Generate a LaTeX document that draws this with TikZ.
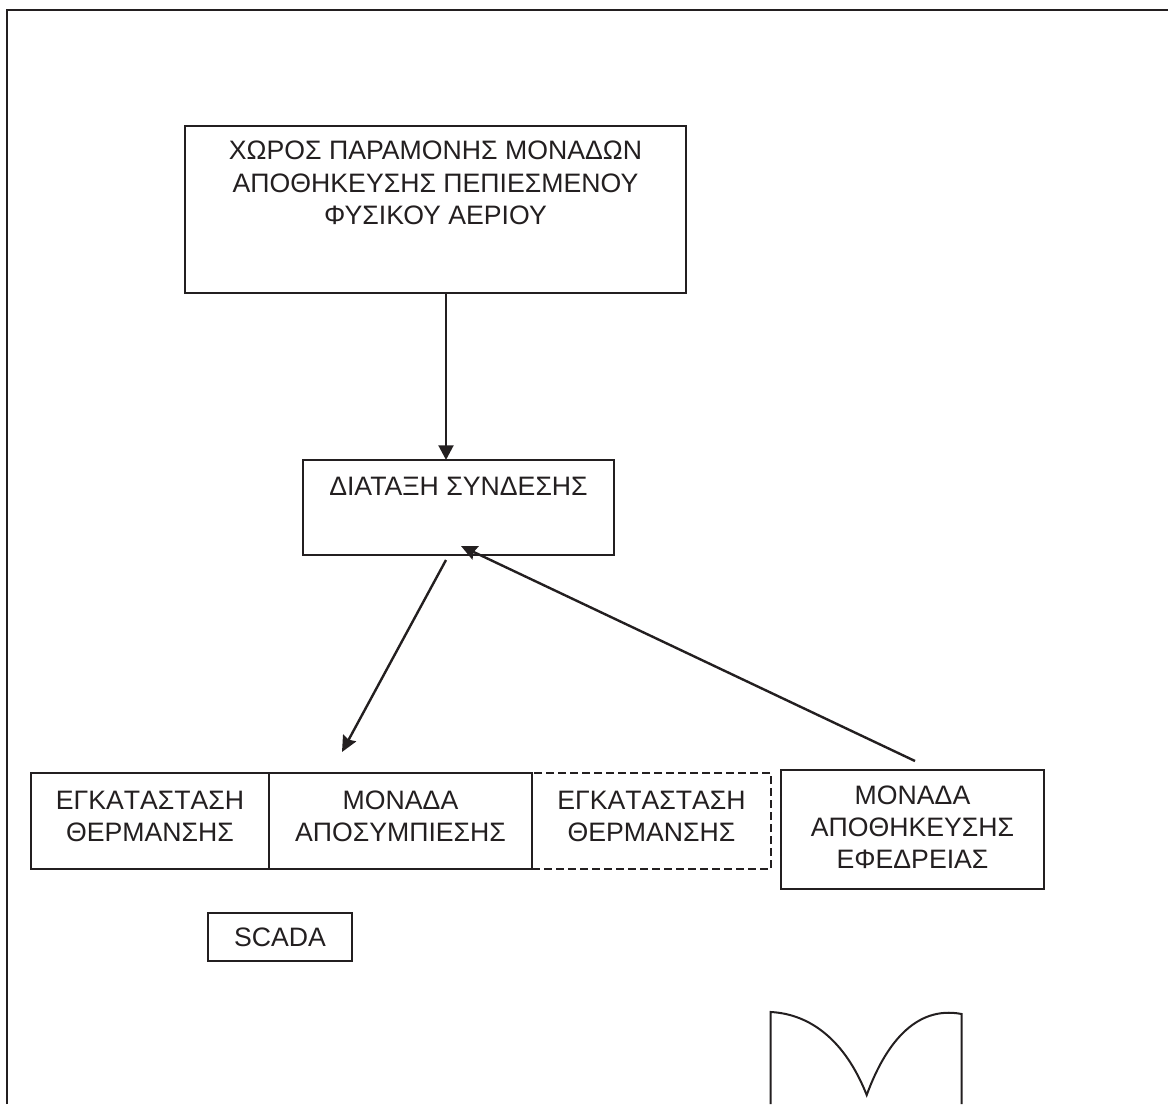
\documentclass[tikz,border=0pt]{standalone}
\usepackage{fontspec}
\setmainfont{Liberation Sans}
\newfontfamily\nokern[Kerning=Off]{Liberation Sans}
\usetikzlibrary{positioning, arrows.meta}
\definecolor{ink}{HTML}{231F20}
\tikzset{
  unitbox/.style={draw=ink, text=ink, line width=1.5pt, inner sep=0pt, outer sep=0pt,
    align=center, font=\fontsize{20}{24.2}\selectfont, minimum height=72pt},
  flow/.style={draw=ink, line width=1.8pt, -{Stealth[length=12pt,width=11pt,inset=1.5pt]}}
}
\begin{document}
\begin{tikzpicture}[x=0.75pt,y=-0.75pt]
     \useasboundingbox (0,0) rectangle (1168,1104);
     % outer frame, open at the bottom and on the right
     \draw[ink, line width=1.5pt] (6.5,1104) -- (6.5,9.5) -- (1168,9.5);

     \node[unitbox, minimum width=375.75pt, minimum height=125.25pt] (store) at (435.5,209.5)
       {ΧΩΡΟΣ ΠΑΡΑΜΟΝΗΣ ΜΟΝΑΔΩΝ\\ ΑΠΟΘΗΚΕΥΣΗΣ ΠΕΠΙΕΣΜΕΝΟΥ\\ ΦΥΣΙΚΟΥ ΑΕΡΙΟΥ\\[16pt]~};
     \node[unitbox, minimum width=233.25pt, minimum height=71.25pt] (link) at (458.5,507.5)
       {ΔΙΑΤΑΞΗ ΣΥΝΔΕΣΗΣ\\[7pt]~};

     % row of units
     \node[unitbox, minimum width=178.5pt] (heatA) at (150,821)
       {{\nokern ΕΓΚΑΤΑΣΤΑΣΗ}\\ ΘΕΡΜΑΝΣΗΣ\\[-17pt]~};
     \node[unitbox, minimum width=197.25pt, right=0pt of heatA] (decomp)
       {ΜΟΝΑΔΑ\\ ΑΠΟΣΥΜΠΙΕΣΗΣ\\[-17pt]~};
     \node[unitbox, minimum width=179.25pt, right=0pt of decomp, dash pattern=on 6pt off 3pt, line width=1.1pt] (heatB)
       {{\nokern ΕΓΚΑΤΑΣΤΑΣΗ}\\ ΘΕΡΜΑΝΣΗΣ\\[-17pt]~};
     \node[unitbox, minimum width=197.25pt, minimum height=89.25pt] (reserve) at (912.5,829.5)
       {ΜΟΝΑΔΑ\\ ΑΠΟΘΗΚΕΥΣΗΣ\\ ΕΦΕΔΡΕΙΑΣ\\[-20.7pt]~};
     \node[unitbox, minimum width=108pt, minimum height=36pt] (scada) at (280,937) {SCADA};

     % free ends of the arrows
     \coordinate (tap) at (446,400);
     \coordinate (linkout) at (446,560);
     \coordinate (decompin) at (342,752);
     \coordinate (reserveout) at (915,761);
     \coordinate (linkin) at (461,546);

     \draw[flow, line width=2.2pt, -{Triangle[length=11pt,width=11pt]}] (store.south -| tap) -- (link.north -| tap);
     \draw[flow] (linkout) -- (decompin);
     \draw[flow] (reserveout) -- (linkin);

     % the vessel at the bottom, cut off by the page
     \draw[ink, line width=1.5pt] (770.7,1104) -- (770.7,1012)
       .. controls (810,1014) and (845,1040) .. (866.7,1095)
       .. controls (885,1045) and (915,1005) .. (961.7,1014) -- (961.7,1104);
\end{tikzpicture}
\end{document}
